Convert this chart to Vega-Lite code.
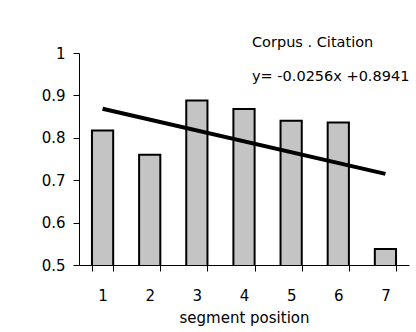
{
  "$schema": "https://vega.github.io/schema/vega-lite/v6.json",
  "width": 330,
  "height": 212,
  "autosize": "none",
  "padding": {"left": 79, "top": 53, "right": 7, "bottom": 67},
  "background": "white",
  "config": {
    "view": {"stroke": null},
    "font": "DejaVu Sans",
    "axis": {
      "domainColor": "black",
      "tickColor": "black",
      "labelColor": "black",
      "titleColor": "black",
      "labelFont": "DejaVu Sans",
      "titleFont": "DejaVu Sans",
      "labelFontSize": 15,
      "titleFontSize": 15,
      "titleFontWeight": "normal",
      "grid": false,
      "tickSize": 6
    }
  },
  "datasets": {
    "bars": [
      {"pos": "1", "val": 0.817},
      {"pos": "2", "val": 0.760},
      {"pos": "3", "val": 0.888},
      {"pos": "4", "val": 0.868},
      {"pos": "5", "val": 0.840},
      {"pos": "6", "val": 0.836},
      {"pos": "7", "val": 0.538}
    ],
    "trend": [
      {"pos": "1", "val": 0.8685},
      {"pos": "7", "val": 0.7149}
    ],
    "notes": [
      {"pos": "4", "val": 1.014, "label": "Corpus . Citation"},
      {"pos": "4", "val": 0.934, "label": "y= -0.0256x +0.8941"}
    ]
  },
  "encoding": {
    "x": {
      "field": "pos",
      "type": "ordinal",
      "sort": ["1", "2", "3", "4", "5", "6", "7"],
      "scale": {"paddingInner": 0.55, "paddingOuter": 0.275},
      "axis": {"title": "segment position", "labelAngle": 0, "tickBand": "extent", "labelPadding": 17, "titlePadding": 7}
    },
    "y": {
      "field": "val",
      "type": "quantitative",
      "scale": {"domain": [0.5, 1], "zero": false, "nice": false},
      "axis": {"title": null, "values": [0.5, 0.6, 0.7, 0.8, 0.9, 1], "format": "~g", "labelPadding": 8}
    }
  },
  "layer": [
    {
      "data": {"name": "bars"},
      "mark": {"type": "bar", "fill": "#c4c4c4", "stroke": "black", "strokeWidth": 2, "clip": true}
    },
    {
      "data": {"name": "trend"},
      "mark": {"type": "line", "color": "black", "strokeWidth": 4}
    },
    {
      "data": {"name": "notes"},
      "mark": {"type": "text", "align": "left", "baseline": "alphabetic", "dx": 8, "fontSize": 14.5, "color": "black"},
      "encoding": {"text": {"field": "label"}}
    }
  ]
}
